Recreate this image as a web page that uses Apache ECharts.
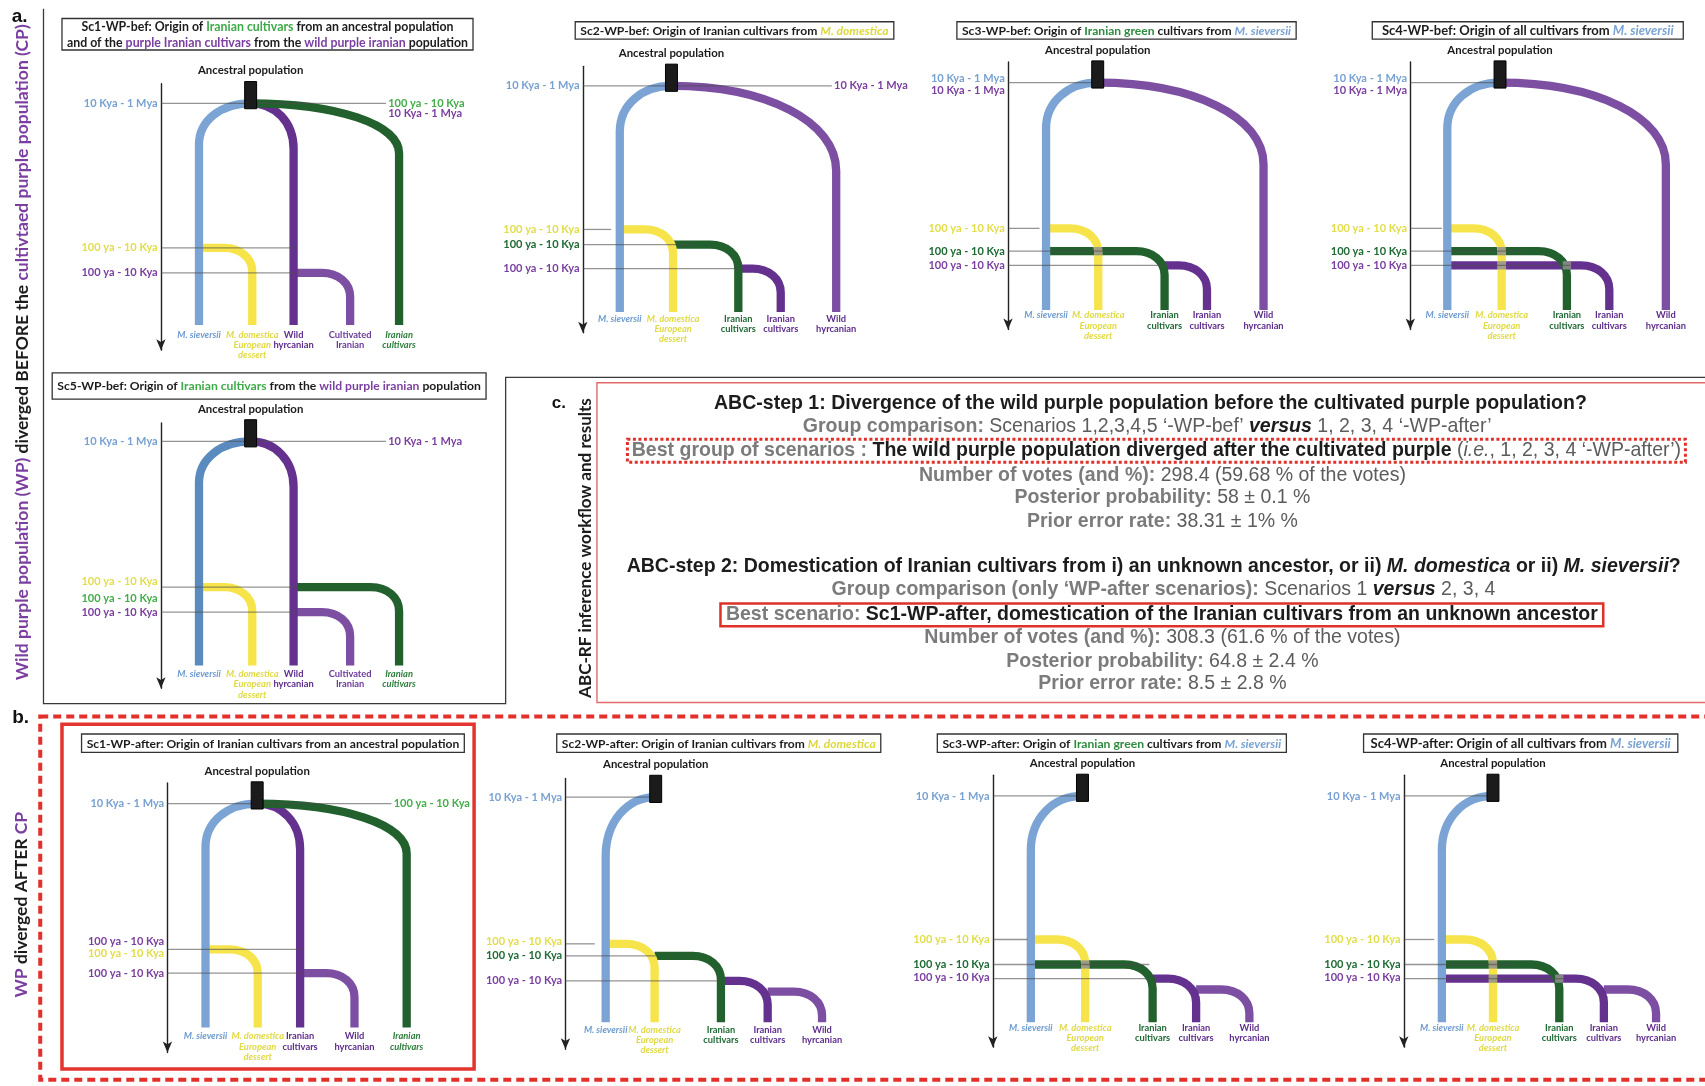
<!DOCTYPE html>
<html><head><meta charset="utf-8">
<script src="https://cdn.jsdelivr.net/npm/echarts@6/dist/echarts.min.js"></script>
<style>html,body{margin:0;padding:0;background:#fff}#c{width:1705px;height:1086px}</style>
</head><body><div id="c"></div>
<script>
// ================= DATA (schematic units: x = lineage position from the time axis, y = time depth from axis top) =================
// Sc1-WP-bef
const bef1Taxa = ['sieversii','domestica','wildHyr','cultIran','iranGreenIt'];
const bef1X = [35, 84, 122, 174, 219];
const bef1Root = 82.5;
const bef1Levels = [18, 151, 174];
const bef1Branches = [[-1,0,0],[-1,2,0],[-1,4,0],[0,1,1],[2,3,2]];
const bef1LeafEnd = 222;
const bef1Guides = [[0,207],[1,125],[2,125]];
const bef1TimeLabels = [['10 Kya - 1 Mya','blue',18,'L'],['100 ya - 10 Kya','yellow',151,'L'],['100 ya - 10 Kya','purple',174,'L'],['100 ya - 10 Kya','green',18,'R'],['10 Kya - 1 Mya','purple',27,'R']];
// Sc2-WP-bef
const bef2Taxa = ['sieversii','domestica','iranGreen','iranPurple','wildHyrL'];
const bef2X = [34, 83, 143, 182, 233];
const bef2Root = 81.5;
const bef2Levels = [18, 150, 164, 186];
const bef2Branches = [[-1,0,0],[-1,4,0],[0,1,1],[1,2,2],[2,3,3]];
const bef2LeafEnd = 226;
const bef2Guides = [[0,229],[1,26],[2,101],[3,144]];
const bef2TimeLabels = [['10 Kya - 1 Mya','blue',18,'L'],['100 ya - 10 Kya','yellow',150,'L'],['100 ya - 10 Kya','greenD',164,'L'],['100 ya - 10 Kya','purple',186,'L'],['10 Kya - 1 Mya','purple',18,'R']];
// Sc3-WP-bef
const bef3Taxa = ['sieversii','domestica','iranGreen','iranPurple','wildHyrL'];
const bef3X = [35, 83, 144, 183, 235];
const bef3Root = 82.5;
const bef3Levels = [19, 153, 174, 187];
const bef3Branches = [[-1,0,0],[-1,4,0],[0,1,1],[0,2,2],[2,3,3]];
const bef3LeafEnd = 228;
const bef3Guides = [[0,80],[1,29],[2,103],[3,144]];
const bef3TimeLabels = [['10 Kya - 1 Mya','blue',15,'L'],['10 Kya - 1 Mya','purple',26,'L'],['100 ya - 10 Kya','yellow',153,'L'],['100 ya - 10 Kya','greenD',174,'L'],['100 ya - 10 Kya','purple',187,'L']];
// Sc4-WP-bef
const bef4Taxa = ['sieversii','domestica','iranGreen','iranPurple','wildHyrL'];
const bef4X = [34, 84, 144, 183, 235];
const bef4Root = 82.5;
const bef4Levels = [19, 153, 174, 187];
const bef4Branches = [[-1,0,0],[-1,4,0],[0,1,1],[0,2,2],[0,3,3]];
const bef4LeafEnd = 228;
const bef4Guides = [[0,80],[1,29],[2,103],[3,147]];
const bef4TimeLabels = [['10 Kya - 1 Mya','blue',15,'L'],['10 Kya - 1 Mya','purple',26,'L'],['100 ya - 10 Kya','yellow',153,'L'],['100 ya - 10 Kya','greenD',174,'L'],['100 ya - 10 Kya','purple',187,'L']];
// Sc5-WP-bef
const bef5Taxa = ['sieversiiD','domestica','wildHyr','cultIran','iranGreenIt'];
const bef5X = [35, 84, 122, 174, 219];
const bef5Root = 82.5;
const bef5Levels = [17, 151, 174];
const bef5Branches = [[-1,0,0],[-1,2,0],[0,1,1],[2,4,1],[2,3,2]];
const bef5LeafEnd = 223;
const bef5Guides = [[0,207],[1,125],[2,125]];
const bef5TimeLabels = [['10 Kya - 1 Mya','blue',17,'L'],['100 ya - 10 Kya','yellow',146,'L'],['100 ya - 10 Kya','green',161,'L'],['100 ya - 10 Kya','purple',174,'L'],['10 Kya - 1 Mya','purple',17,'R']];
// Sc1-WP-after
const aft1Taxa = ['sieversii','domestica','iranPurple','wildHyrL','iranGreenIt'];
const aft1X = [35, 83, 122, 172, 220];
const aft1Root = 82.5;
const aft1Levels = [19, 153, 175];
const aft1Branches = [[-1,0,0],[-1,2,0],[-1,4,0],[0,1,1],[2,3,2]];
const aft1LeafEnd = 225;
const aft1Guides = [[0,206],[1,124],[2,124]];
const aft1TimeLabels = [['10 Kya - 1 Mya','blue',19,'L'],['100 ya - 10 Kya','purple',146,'L'],['100 ya - 10 Kya','yellow',157,'L'],['100 ya - 10 Kya','purple',175,'L'],['100 ya - 10 Kya','green',19,'R']];
// Sc2-WP-after
const aft2Taxa = ['sieversii','domestica','iranGreen','iranPurple','wildHyrL'];
const aft2X = [37, 82, 143, 186, 236];
const aft2Root = 83;
const aft2Levels = [17, 152, 163, 186, 196];
const aft2Branches = [[-1,0,0],[0,1,1],[1,2,2],[2,3,3],[3,4,4]];
const aft2LeafEnd = 224;
const aft2Guides = [[0,78],[1,27],[2,83],[3,143]];
const aft2TimeLabels = [['10 Kya - 1 Mya','blue',17,'L'],['100 ya - 10 Kya','yellow',150,'L'],['100 ya - 10 Kya','greenD',163,'L'],['100 ya - 10 Kya','purple',186,'L']];
// Sc3-WP-after
const aft3Taxa = ['sieversii','domestica','iranGreen','iranPurple','wildHyrL'];
const aft3X = [35, 85, 147, 187, 236];
const aft3Root = 82.5;
const aft3Levels = [19, 151, 174, 187, 197];
const aft3Branches = [[-1,0,0],[0,1,1],[0,2,2],[2,3,3],[3,4,4]];
const aft3LeafEnd = 227;
const aft3Guides = [[0,77],[1,32],[2,144],[3,144]];
const aft3TimeLabels = [['10 Kya - 1 Mya','blue',19,'L'],['100 ya - 10 Kya','yellow',151,'L'],['100 ya - 10 Kya','greenD',174,'L'],['100 ya - 10 Kya','purple',186,'L']];
// Sc4-WP-after
const aft4Taxa = ['sieversii','domestica','iranGreen','iranPurple','wildHyrL'];
const aft4X = [35, 82, 143, 184, 232];
const aft4Root = 82;
const aft4Levels = [19, 151, 174, 187, 197];
const aft4Branches = [[-1,0,0],[0,1,1],[0,2,2],[0,3,3],[3,4,4]];
const aft4LeafEnd = 227;
const aft4Guides = [[0,77],[1,28],[2,101],[3,147]];
const aft4TimeLabels = [['10 Kya - 1 Mya','blue',19,'L'],['100 ya - 10 Kya','yellow',151,'L'],['100 ya - 10 Kya','greenD',174,'L'],['100 ya - 10 Kya','purple',186,'L']];

// Panel c results
const step1Votes = '298.4 (59.68 % of the votes)';
const step1Posterior = '58 ± 0.1 %';
const step1Error = '38.31 ± 1% %';
const step2Votes = '308.3 (61.6 % of the votes)';
const step2Posterior = '64.8 ± 2.4 %';
const step2Error = '8.5 ± 2.8 %';

// ================= STYLE / LAYOUT =================
const SC = 1705 / 1568;
const d = v => v * SC;
const LATO = 'Lato';
const ARIAL = 'Liberation Sans';
const LW = 8.3;

const COL = { blue:'#7BA4D4', blueD:'#5B8BBE', yellow:'#F6E44A', green:'#22602E', purple:'#65318F', purpleL:'#7D4FA3' };
const TLC = { blue:'#78A1D2', yellow:'#E2DD4A', green:'#44AD4A', greenD:'#1F6A35', purple:'#7B3FA0' };
const TAXA = {
  sieversii:  { col:COL.blue,  lines:['M. sieversii'], tc:'#6E9BD0', it:true },
  sieversiiD: { col:COL.blueD, lines:['M. sieversii'], tc:'#6E9BD0', it:true },
  domestica:  { col:COL.yellow, lines:['M. domestica','European','dessert'], tc:'#E0DA45', it:true },
  wildHyr:    { col:COL.purple, lines:['Wild','hyrcanian'], tc:'#5E2D8C', it:false },
  wildHyrL:   { col:COL.purpleL, lines:['Wild','hyrcanian'], tc:'#5E2D8C', it:false },
  cultIran:   { col:COL.purpleL, lines:['Cultivated','Iranian'], tc:'#6B3A9A', it:false },
  iranGreenIt:{ col:COL.green, lines:['Iranian','cultivars'], tc:'#2E7D3C', it:true },
  iranGreen:  { col:COL.green, lines:['Iranian','cultivars'], tc:'#1F6A35', it:false },
  iranPurple: { col:COL.purple, lines:['Iranian','cultivars'], tc:'#5E2D8C', it:false }
};

const ctx = document.createElement('canvas').getContext('2d');
function fstr(sz, b, it, fam) { return (it ? 'italic ' : '') + (b ? 'bold ' : '') + sz + 'px "' + fam + '"'; }
function segW(segs, sz, fam) { let w = 0; for (const s of segs) { ctx.font = fstr(sz, s.b, s.i, fam); w += ctx.measureText(s.t).width; } return w; }
function fitSize(segs, target, fam) { return 20 * target / segW(segs, 20, fam); }
function seg(t, c, f) { f = f || ''; return { t: t, c: c || '#111', b: f.indexOf('b') >= 0, i: f.indexOf('i') >= 0 }; }
function richOf(segs, sz, fam) {
  const rich = {}; let text = '';
  segs.forEach((s, i) => {
    const k = 'r' + i;
    rich[k] = { fill: s.c, fontSize: sz, fontFamily: fam, fontWeight: s.b ? 'bold' : 'normal', fontStyle: s.i ? 'italic' : 'normal' };
    text += '{' + k + '|' + s.t + '}';
  });
  return { text, rich };
}
function gText(x, y, segs, sz, fam, extra) {
  const r = richOf(segs, sz, fam);
  return Object.assign({ type: 'text', x: x, y: y, silent: true, z: 10,
    style: { text: r.text, rich: r.rich, fontSize: sz, fontFamily: fam, align: 'center', verticalAlign: 'middle', textAlign: 'center', textVerticalAlign: 'middle' } }, extra || {});
}

const K = '#1c1c1c', G = '#3EAB49', G2 = '#2E8B3F', P = '#7B3FA0', Y = '#DCD83C', B = '#7AA3D3';
const TITLES = {
  bef1: [[seg('Sc1-WP-bef: Origin of ',K,'b'), seg('Iranian cultivars',G,'b'), seg(' from an ancestral population',K,'b')],
         [seg('and of the ',K,'b'), seg('purple Iranian cultivars',P,'b'), seg(' from the ',K,'b'), seg('wild purple iranian',P,'b'), seg(' population',K,'b')]],
  bef2: [[seg('Sc2-WP-bef: Origin of Iranian cultivars from ',K,'b'), seg('M. domestica',Y,'bi')]],
  bef3: [[seg('Sc3-WP-bef: Origin of ',K,'b'), seg('Iranian green',G2,'b'), seg(' cultivars from ',K,'b'), seg('M. sieversii',B,'bi')]],
  bef4: [[seg('Sc4-WP-bef: Origin of all cultivars from ',K,'b'), seg('M. sieversii',B,'bi')]],
  bef5: [[seg('Sc5-WP-bef: Origin of ',K,'b'), seg('Iranian cultivars',G,'b'), seg(' from the ',K,'b'), seg('wild purple iranian',P,'b'), seg(' population',K,'b')]],
  aft1: [[seg('Sc1-WP-after: Origin of Iranian cultivars from an ancestral population',K,'b')]],
  aft2: [[seg('Sc2-WP-after: Origin of Iranian cultivars from ',K,'b'), seg('M. domestica',Y,'bi')]],
  aft3: [[seg('Sc3-WP-after: Origin of ',K,'b'), seg('Iranian green',G2,'b'), seg(' cultivars from ',K,'b'), seg('M. sieversii',B,'bi')]],
  aft4: [[seg('Sc4-WP-after: Origin of all cultivars from ',K,'b'), seg('M. sieversii',B,'bi')]]
};

const LAYOUT = [
  { key:'bef1', ax:148,  at:77,  ab:322, curve:{0:38,2:42,4:46}, leafY:231, tb:[57,17,435,46] },
  { key:'bef2', ax:536,  at:61,  ab:306, curve:{0:42,4:78}, leafY:232, tb:[529,20,822,36] },
  { key:'bef3', ax:927,  at:57,  ab:303, curve:{0:42,4:75}, leafY:233, tb:[880,20,1192,36] },
  { key:'bef4', ax:1297, at:57,  ab:303, curve:{0:42,4:75}, leafY:233, tb:[1262,20,1548,36] },
  { key:'bef5', ax:148,  at:389, ab:633, curve:{0:38,2:42}, leafY:231, tb:[48,343,447,367] },
  { key:'aft1', ax:154,  at:720, ab:968, curve:{0:40,2:42,4:46}, leafY:233, tb:[75,675,427,692] },
  { key:'aft2', ax:520,  at:716, ab:965, curve:{0:55}, leafY:231, tb:[512,675,810,692] },
  { key:'aft3', ax:913,  at:713, ab:963, curve:{0:50}, leafY:232, tb:[862,675,1183,692] },
  { key:'aft4', ax:1291, at:713, ab:963, curve:{0:50}, leafY:232, tb:[1254,675,1543,692] }
];
const DATA = {
  bef1:{taxa:bef1Taxa,x:bef1X,root:bef1Root,levels:bef1Levels,branches:bef1Branches,leafEnd:bef1LeafEnd,guides:bef1Guides,labels:bef1TimeLabels},
  bef2:{taxa:bef2Taxa,x:bef2X,root:bef2Root,levels:bef2Levels,branches:bef2Branches,leafEnd:bef2LeafEnd,guides:bef2Guides,labels:bef2TimeLabels},
  bef3:{taxa:bef3Taxa,x:bef3X,root:bef3Root,levels:bef3Levels,branches:bef3Branches,leafEnd:bef3LeafEnd,guides:bef3Guides,labels:bef3TimeLabels},
  bef4:{taxa:bef4Taxa,x:bef4X,root:bef4Root,levels:bef4Levels,branches:bef4Branches,leafEnd:bef4LeafEnd,guides:bef4Guides,labels:bef4TimeLabels},
  bef5:{taxa:bef5Taxa,x:bef5X,root:bef5Root,levels:bef5Levels,branches:bef5Branches,leafEnd:bef5LeafEnd,guides:bef5Guides,labels:bef5TimeLabels},
  aft1:{taxa:aft1Taxa,x:aft1X,root:aft1Root,levels:aft1Levels,branches:aft1Branches,leafEnd:aft1LeafEnd,guides:aft1Guides,labels:aft1TimeLabels},
  aft2:{taxa:aft2Taxa,x:aft2X,root:aft2Root,levels:aft2Levels,branches:aft2Branches,leafEnd:aft2LeafEnd,guides:aft2Guides,labels:aft2TimeLabels},
  aft3:{taxa:aft3Taxa,x:aft3X,root:aft3Root,levels:aft3Levels,branches:aft3Branches,leafEnd:aft3LeafEnd,guides:aft3Guides,labels:aft3TimeLabels},
  aft4:{taxa:aft4Taxa,x:aft4X,root:aft4Root,levels:aft4Levels,branches:aft4Branches,leafEnd:aft4LeafEnd,guides:aft4Guides,labels:aft4TimeLabels}
};

const tlSize = fitSize([seg('10 Kya - 1 Mya','', 'b')], d(68), LATO);
const ancSize = fitSize([seg('Ancestral population','','b')], d(97), LATO);
const leafSize = fitSize([seg('hyrcanian','','b')], d(37), LATO);

// ================= SERIES BUILDER =================
const grids = [], xAxes = [], yAxes = [], series = [];
function buildScenario(L, D, gi) {
  const X = i => i < 0 ? D.root : D.x[i];
  const H = L.ab - L.at;
  grids.push({ left: d(L.ax), top: d(L.at), width: d(260), height: d(H), containLabel: false, outerBoundsMode: 'none' });
  xAxes.push({ gridIndex: gi, type: 'value', min: 0, max: 260, show: false });
  yAxes.push({ gridIndex: gi, type: 'value', min: 0, max: H, inverse: true,
    axisLine: { show: true, onZero: false, symbol: ['arrow', 'none'], symbolSize: [7, 11], lineStyle: { color: '#222', width: 1.4 } },
    axisTick: { show: false }, axisLabel: { show: false }, splitLine: { show: false } });
  const base = { type: 'custom', xAxisIndex: gi, yAxisIndex: gi, silent: true, animation: false, clip: false };
  const br = D.branches.map(b => ({ from: b[0], to: b[1], lev: b[2] })).sort((a, b) => b.lev - a.lev);
  // branches
  series.push(Object.assign({}, base, { z: 2,
    data: br.map(b => [X(b.from), X(b.to), D.levels[b.lev], D.leafEnd, b.from < 0 ? L.curve[b.to] : 22]),
    renderItem: function (p, api) {
      const b = br[p.dataIndex];
      const x0 = api.value(0), x1 = api.value(1), t = api.value(2), yb = api.value(3), ryU = api.value(4);
      const a = api.coord([x0, t]), c = api.coord([x1, t]), e = api.coord([x1, yb]);
      const dx = c[0] - a[0], s = dx >= 0 ? 1 : -1, span = Math.abs(dx);
      const rx = b.from < 0 ? span : Math.min(span, Math.abs(api.coord([26, t])[0] - api.coord([0, t])[0]));
      const ry = Math.abs(api.coord([x1, t + ryU])[1] - a[1]);
      const k = 0.58, cx = c[0] - s * rx;
      const pd = 'M' + a[0] + ',' + a[1] + ' L' + cx + ',' + a[1] +
        ' C' + (cx + s * k * rx) + ',' + a[1] + ' ' + c[0] + ',' + (a[1] + ry - k * ry) + ' ' + c[0] + ',' + (a[1] + ry) +
        ' L' + e[0] + ',' + e[1];
      return { type: 'path', shape: { pathData: pd }, style: { fill: 'none', stroke: TAXA[D.taxa[b.to]].col, lineWidth: LW, lineCap: 'butt', lineJoin: 'round' } };
    } }));
  // crossing marks where a horizontal branch passes over an existing lineage
  const cr = [];
  D.branches.forEach(b => {
    const t = D.levels[b[2]], lo = Math.min(X(b[0]), X(b[1])) + 6, hi = Math.max(X(b[0]), X(b[1])) - 6;
    D.branches.forEach(c => { if (c !== b && D.levels[c[2]] < t && X(c[1]) > lo && X(c[1]) < hi) cr.push([X(c[1]), t]); });
  });
  series.push(Object.assign({}, base, { z: 3, data: cr,
    renderItem: function (p, api) {
      const c = api.coord([api.value(0), api.value(1)]);
      return { type: 'rect', shape: { x: c[0] - LW / 2, y: c[1] - LW / 2, width: LW, height: LW }, style: { fill: '#8f8f8f', opacity: 0.85 } };
    } }));
  // guide lines
  series.push(Object.assign({}, base, { z: 4, data: D.guides.map(g => [0, g[1], D.levels[g[0]]]),
    renderItem: function (p, api) {
      const a = api.coord([api.value(0), api.value(2)]), b = api.coord([api.value(1), api.value(2)]);
      return { type: 'line', shape: { x1: a[0], y1: a[1], x2: b[0], y2: b[1] }, style: { stroke: '#4d4d4d', lineWidth: 1.3, opacity: 0.6 } };
    } }));
  // ancestral box + label
  series.push(Object.assign({}, base, { z: 5, data: [[D.root, D.levels[0]]],
    renderItem: function (p, api) {
      const r = api.value(0), t = api.value(1);
      const tl = api.coord([r - 5.5, t - 20]), brc = api.coord([r + 5.5, t + 5]), lab = api.coord([r, t - 30]);
      return { type: 'group', children: [
        { type: 'rect', shape: { x: tl[0], y: tl[1], width: brc[0] - tl[0], height: brc[1] - tl[1] }, style: { fill: '#1b1b1b', stroke: '#000', lineWidth: 1 } },
        { type: 'text', style: { text: 'Ancestral population', x: lab[0], y: lab[1], fill: '#1a1a1a', fontSize: ancSize, fontFamily: LATO, fontWeight: 'bold', align: 'center', verticalAlign: 'middle', textAlign: 'center', textVerticalAlign: 'middle' } }
      ] };
    } }));
  // time labels
  const labs = D.labels;
  series.push(Object.assign({}, base, { z: 6, data: labs.map(l => [l[3] === 'L' ? -3 : D.guides[0][1] + 2, l[2]]),
    renderItem: function (p, api) {
      const l = labs[p.dataIndex], c = api.coord([api.value(0), api.value(1)]);
      const al = l[3] === 'L' ? 'right' : 'left';
      return { type: 'text', style: { text: l[0], x: c[0], y: c[1], fill: TLC[l[1]], fontSize: tlSize, fontFamily: LATO, fontWeight: 'bold', align: al, textAlign: al, verticalAlign: 'middle', textVerticalAlign: 'middle' } };
    } }));
  // leaf labels
  series.push(Object.assign({}, base, { z: 6, data: D.x.map(x => [x, L.leafY]),
    renderItem: function (p, api) {
      const tx = TAXA[D.taxa[p.dataIndex]], c = api.coord([api.value(0), api.value(1)]);
      const lh = d(9.4);
      return { type: 'text', style: { text: tx.lines.join('\n'), x: c[0], y: c[1] - lh / 2, fill: tx.tc, fontSize: leafSize, fontFamily: LATO, fontWeight: 'bold', fontStyle: tx.it ? 'italic' : 'normal', lineHeight: lh, align: 'center', textAlign: 'center', verticalAlign: 'top', textVerticalAlign: 'top' } };
    } }));
}
LAYOUT.forEach((L, i) => buildScenario(L, DATA[L.key], i));

// ================= GRAPHIC (frames, titles, panel c text) =================
const GR = [];
GR.push({ type: 'polyline', silent: true, z: 1, shape: { points: [[40,8],[40,647],[465,647],[465,347],[1580,347]].map(p => [d(p[0]), d(p[1])]) }, style: { stroke: '#3a3a3a', lineWidth: 1.3, fill: 'none' } });
GR.push({ type: 'rect', silent: true, z: 1, shape: { x: d(549), y: d(352), width: d(1040), height: d(294) }, style: { stroke: '#E46A6A', lineWidth: 1.4, fill: 'none' } });
GR.push({ type: 'rect', silent: true, z: 1, shape: { x: d(37), y: d(659), width: d(1550), height: d(334) }, style: { stroke: '#E3302B', lineWidth: 4, lineDash: [8, 5], fill: 'none' } });
GR.push({ type: 'rect', silent: true, z: 1, shape: { x: d(57), y: d(666), width: d(379), height: d(317) }, style: { stroke: '#E3342F', lineWidth: 3.5, fill: 'none' } });
GR.push(gText(d(18), d(15), [seg('a.','#111','b')], 19, ARIAL));
GR.push(gText(d(19), d(660), [seg('b.','#111','b')], 19, ARIAL));
GR.push(gText(d(514), d(371), [seg('c.','#111','b')], 17, ARIAL));
const rotA = [seg('Wild purple population (WP)',P,'b'), seg(' diverged BEFORE the ',K,'b'), seg('cultivtaed purple population (CP)',P,'b')];
const rotSize = fitSize(rotA, d(604), LATO);
GR.push(gText(d(21), d(324), rotA, rotSize, LATO, { rotation: Math.PI / 2 }));
GR.push(gText(d(20), d(832), [seg('WP',P,'b'), seg(' diverged AFTER ',K,'b'), seg('CP',P,'b')], rotSize, LATO, { rotation: Math.PI / 2 }));
const rotC = [seg('ABC-RF inference workflow and results',K,'b')];
GR.push(gText(d(538), d(504), rotC, fitSize(rotC, d(276), LATO), LATO, { rotation: Math.PI / 2 }));
LAYOUT.forEach(L => {
  const [x0, y0, x1, y1] = L.tb, lines = TITLES[L.key];
  GR.push({ type: 'rect', silent: true, z: 8, shape: { x: d(x0), y: d(y0), width: d(x1 - x0), height: d(y1 - y0) }, style: { stroke: '#333', lineWidth: 1.3, fill: '#fff' } });
  let sz = 100; lines.forEach(l => { sz = Math.min(sz, fitSize(l, d(x1 - x0 - 9), LATO)); });
  sz = Math.min(sz, 13);
  const n = lines.length, h = (y1 - y0);
  lines.forEach((l, i) => GR.push(gText(d((x0 + x1) / 2), d(y0 + h * (i + 0.5) / n + 0.5), l, sz, LATO)));
});
const gB = '#7b7b7b', gR = '#5c5c5c';
const cLines = [
  [371, 1058, [seg('ABC-step 1: Divergence of the wild purple population before the cultivated purple population?',K,'b')]],
  [392, 1055, [seg('Group comparison:',gB,'b'), seg(' Scenarios 1,2,3,4,5 ‘-WP-bef’ ',gR), seg('versus',K,'bi'), seg(' 1, 2, 3, 4 ‘-WP-after’',gR)]],
  [414.5, 1063.5, [seg('Best group of scenarios : ',gB,'b'), seg('The wild purple population diverged after the cultivated purple',K,'b'), seg(' (',gR), seg('i.e.',gR,'i'), seg(', 1, 2, 3, 4 ‘-WP-after’)',gR)]],
  [437, 1069, [seg('Number of votes (and %):',gB,'b'), seg(' ' + step1Votes,gR)]],
  [458, 1069, [seg('Posterior probability:',gB,'b'), seg(' ' + step1Posterior,gR)]],
  [480, 1069, [seg('Prior error rate:',gB,'b'), seg(' ' + step1Error,gR)]],
  [521, 1061, [seg('ABC-step 2: Domestication of Iranian cultivars from i) an unknown ancestor, or ii) ',K,'b'), seg('M. domestica',K,'bi'), seg(' or ii) ',K,'b'), seg('M. sieversii',K,'bi'), seg('?',K,'b')]],
  [542, 1070, [seg('Group comparison (only ‘WP-after scenarios):',gB,'b'), seg(' Scenarios 1 ',gR), seg('versus',K,'bi'), seg(' 2, 3, 4',gR)]],
  [565.5, 1068.5, [seg('Best scenario:',gB,'b'), seg(' Sc1-WP-after, domestication of the Iranian cultivars from an unknown ancestor',K,'b')]],
  [586, 1069, [seg('Number of votes (and %):',gB,'b'), seg(' ' + step2Votes,gR)]],
  [608, 1069, [seg('Posterior probability:',gB,'b'), seg(' ' + step2Posterior,gR)]],
  [629, 1069, [seg('Prior error rate:',gB,'b'), seg(' ' + step2Error,gR)]]
];
const cSize = fitSize(cLines[0][2], d(803), ARIAL);
cLines.forEach(l => GR.push(gText(d(l[1]), d(l[0]), l[2], cSize, ARIAL)));
const w3 = segW(cLines[2][2], cSize, ARIAL) + d(8);
GR.push({ type: 'rect', silent: true, z: 9, shape: { x: d(1063.5) - w3 / 2, y: d(404), width: w3, height: d(21) }, style: { stroke: '#E0302A', lineWidth: 3, lineDash: [3, 2.5], fill: 'none' } });
const w9 = segW(cLines[8][2], cSize, ARIAL) + d(10);
GR.push({ type: 'rect', silent: true, z: 9, shape: { x: d(1068.5) - w9 / 2, y: d(555), width: w9, height: d(21) }, style: { stroke: '#E0302A', lineWidth: 2.5, fill: 'none' } });

const chart = echarts.init(document.getElementById('c'), null, { renderer: 'canvas' });
chart.setOption({
  backgroundColor: '#fff',
  animation: false,
  grid: grids, xAxis: xAxes, yAxis: yAxes, series: series,
  graphic: { elements: GR }
});
</script></body></html>
